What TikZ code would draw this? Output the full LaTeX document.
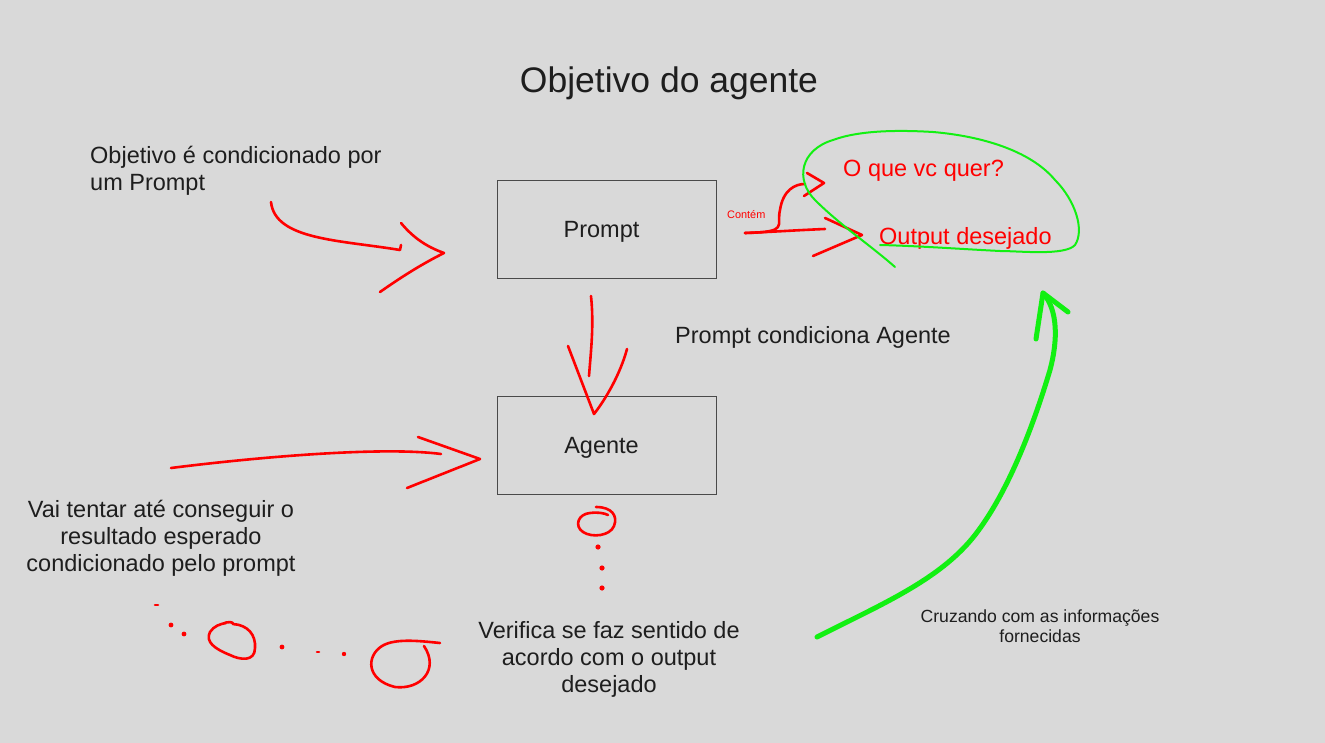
\documentclass[tikz,border=0pt]{standalone}
\usepackage{fontspec}
\setmainfont{Liberation Sans}
\definecolor{bg}{HTML}{D9D9D9}
\definecolor{ink}{HTML}{1E1E1E}
\definecolor{boxline}{HTML}{4A4A4A}
\definecolor{pen}{HTML}{FF0000}
\definecolor{lime}{HTML}{12F012}
\tikzset{
  txt/.style={inner sep=0pt, text=ink, font=\fontsize{23.5}{27}\selectfont},
  redtxt/.style={inner sep=0pt, text=pen, font=\fontsize{23.5}{27}\selectfont},
  smalltxt/.style={inner sep=0pt, text=ink, font=\fontsize{17.6}{20}\selectfont},
  stepbox/.style={draw=boxline, line width=1pt, minimum width=219pt, minimum height=98pt, inner sep=0pt},
  redpen/.style={draw=pen, line width=2.6pt, line cap=round, line join=round},
  greenpen/.style={draw=lime, line width=2pt, line cap=round, line join=round},
  greenthick/.style={draw=lime, line width=5pt, line cap=round, line join=round},
  dot/.style={fill=pen},
}
\begin{document}
\begin{tikzpicture}[x=1pt,y=-1pt]
\fill[bg] (0,0) rectangle (1325,743);
\useasboundingbox (0,0) rectangle (1325,743);

% texts
\node[inner sep=0pt, text=ink, font=\fontsize{35.5}{40}\selectfont] (title) at (669,83) {Objetivo do agente};
\node[txt, anchor=west, align=left] (obj) at (90,170.5) {Objetivo é condicionado por\\um Prompt};
\node[txt, anchor=west] (cond) at (675,337) {Prompt condiciona Agente};
\node[txt, align=center] (vai) at (161,538) {Vai tentar até conseguir o\\resultado esperado\\condicionado pelo prompt};
\node[txt, align=center] (ver) at (609,659) {Verifica se faz sentido de\\acordo com o output\\desejado};
\node[smalltxt, align=center] (cruz) at (1040,626) {Cruzando com as informações\\fornecidas};
\node[redtxt, anchor=west] (quer) at (843,171) {O que vc quer?};
\node[redtxt, anchor=west] (outp) at (879,238) {Output desejado};
\node[inner sep=0pt, text=pen, font=\fontsize{10.9}{12}\selectfont, anchor=west] (contem) at (727,215) {Contém};

% boxes
\node[stepbox] (prompt) at (606.5,230) {};
\node[stepbox] (agente) at (606.5,445) {};
\node[txt, xshift=-5pt, yshift=-2pt] (promptlbl) at (prompt.center) {Prompt};
\node[txt, xshift=-5pt, yshift=-3pt] (agentelbl) at (agente.center) {Agente};

% arrow into Prompt
\draw[redpen] (271,202) .. controls (275,240) and (340,240) .. (400,250) -- (401,245);
\draw[redpen] (401,223) .. controls (415,240) and (430,248) .. (444,253) .. controls (420,265) and (400,278) .. (380,292);

% arrow Prompt -> Agente
\draw[redpen] (591,296) .. controls (594,325) and (591,350) .. (589,376);
\draw[redpen] (568,346) -- (594,414) .. controls (605,400) and (620,375) .. (627,349);

% arrow into Agente
\draw[redpen] (171,468) .. controls (250,458) and (380,446) .. (441,454);
\draw[redpen] (418,437) -- (480,459) -- (407,488);

% Contem arrows
\draw[redpen] (745,233) .. controls (770,232) and (800,230) .. (825,229);
\draw[redpen] (745,233) .. controls (790,232) and (776,226) .. (780,210) .. controls (783,190) and (795,184) .. (805,184);
\draw[redpen] (807,173) -- (824,183) -- (804,196);
\draw[redpen] (825,218) -- (862,235) -- (813,256);

% green loop
\draw[greenpen] (895,267) .. controls (870,245) and (840,225) .. (815,200)
  .. controls (795,180) and (800,150) .. (833,140)
  .. controls (860,130) and (900,130) .. (933,132)
  .. controls (980,136) and (1030,150) .. (1055,180)
  .. controls (1075,200) and (1085,230) .. (1075,245)
  .. controls (1065,256) and (1020,251) .. (1000,251)
  .. controls (960,249) and (920,246) .. (880,245);

% green arrow
\draw[greenthick] (817,637) .. controls (880,605) and (940,580) .. (975,535)
  .. controls (1010,490) and (1035,420) .. (1050,370)
  .. controls (1058,340) and (1058,310) .. (1043,293);
\draw[greenthick] (1036,339) -- (1043,293) -- (1068,312);

% loop and dots under Agente
\draw[redpen] (596,507) .. controls (612,507) and (618,516) .. (614,526)
  .. controls (610,536) and (592,538) .. (583,532)
  .. controls (574,526) and (578,514) .. (590,513)
  .. controls (598,512) and (604,513) .. (608,515);
\fill[dot] (598,547) circle (2.6);
\fill[dot] (602,568) circle (2.6);
\fill[dot] (602,588) circle (2.6);

% bottom left trail
\draw[redpen] (155,605) -- (158,605);
\fill[dot] (171,625) circle (2.4);
\fill[dot] (184,634) circle (2.4);
\draw[redpen] (222,624) .. controls (228,621) and (234,622) .. (233,624)
  .. controls (248,625) and (256,635) .. (255,648)
  .. controls (255,662) and (240,660) .. (230,655)
  .. controls (215,649) and (205,642) .. (210,632)
  .. controls (214,626) and (220,624) .. (226,623);
\fill[dot] (282,647) circle (2.4);
\draw[redpen] (317,652) -- (319,652);
\fill[dot] (344,654) circle (2.2);
\draw[redpen] (440,643) .. controls (420,641) and (395,638) .. (382,646)
  .. controls (366,656) and (366,680) .. (395,687)
  .. controls (420,690) and (440,670) .. (424,646);
\end{tikzpicture}
\end{document}
